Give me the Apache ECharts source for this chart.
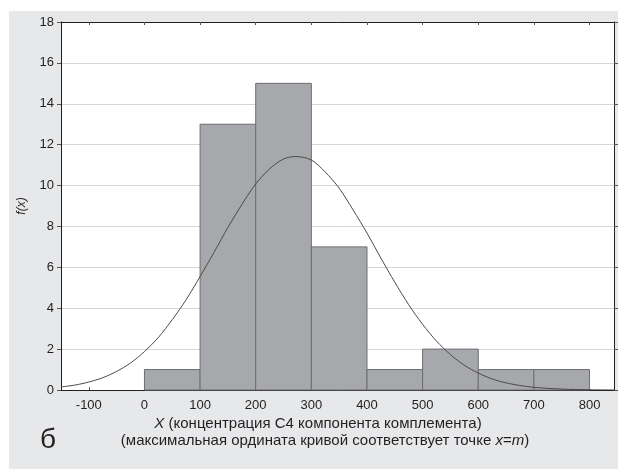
<!DOCTYPE html>
<html>
<head>
<meta charset="utf-8">
<script src="https://cdn.jsdelivr.net/npm/echarts@6/dist/echarts.min.js"></script>
<style>
html,body{margin:0;padding:0;background:#fff;}
#chart{width:618px;height:469px;}
</style>
</head>
<body>
<div id="chart"></div>
<script>
// Histogram bins: [from, to]
var binStarts = [0, 100, 200, 300, 400, 500, 600, 700];
var binEnds   = [100, 200, 300, 400, 500, 600, 700, 800];
var binCounts = [1, 13, 15, 7, 1, 2, 1, 1];

// Fitted curve
var curveX = [-150, -125, -100, -75, -50, -25, 0, 25, 50, 75, 100, 125, 150, 175, 200, 225, 250, 272, 300, 325, 350, 375, 400, 425, 450, 475, 500, 525, 550, 575, 600, 625, 650, 675, 700, 750, 800, 844];
var curveY = [0.15, 0.24, 0.39, 0.6, 0.91, 1.32, 1.88, 2.57, 3.44, 4.42, 5.55, 6.73, 7.95, 9.07, 10.08, 10.82, 11.3, 11.42, 11.25, 10.66, 9.87, 8.81, 7.68, 6.45, 5.27, 4.17, 3.21, 2.39, 1.73, 1.21, 0.83, 0.54, 0.35, 0.22, 0.13, 0.045, 0.013, 0.004];

// Tick labels
var xTicks = [-100, 0, 100, 200, 300, 400, 500, 600, 700, 800];
var yMin = 0, yMax = 18, yStep = 2;
var xMin = -150, xMax = 844;

var chart = echarts.init(document.getElementById('chart'), null, {renderer: 'canvas'});

var histData = binStarts.map(function (s, i) { return [s, binEnds[i], binCounts[i]]; });
var curveData = curveX.map(function (x, i) { return [x, curveY[i]]; });

var axisColor = '#231f20';
var font = "'Liberation Sans', Arial, sans-serif";

var option = {
  backgroundColor: '#ffffff',
  animation: false,
  graphic: [
    {type: 'rect', z: -10, silent: true, shape: {x: 9, y: 11, width: 609, height: 458}, style: {fill: '#e7e8e9'}},
    {type: 'text', left: 40, top: 426, z: 10, style: {text: 'б', font: '28px ' + font, fill: '#231f20'}},
    {type: 'text', x: 318, y: 424, z: 10, style: {
      text: '{i|X} (концентрация С4 компонента комплемента)',
      align: 'center', verticalAlign: 'middle', font: '15px ' + font, fill: '#231f20',
      rich: {i: {fontStyle: 'italic', fontSize: 15, fontFamily: font, fill: '#231f20'}}
    }},
    {type: 'text', x: 325, y: 441, z: 10, style: {
      text: '(максимальная ордината кривой соответствует точке {i|x}={i|m})',
      align: 'center', verticalAlign: 'middle', font: '15px ' + font, fill: '#231f20',
      rich: {i: {fontStyle: 'italic', fontSize: 15, fontFamily: font, fill: '#231f20'}}
    }}
  ],
  grid: {left: 61, top: 22, right: 4, bottom: 79, show: true, backgroundColor: '#ffffff', borderWidth: 0, containLabel: false},
  xAxis: [
    {
      type: 'value', min: xMin, max: xMax, position: 'bottom',
      axisLine: {show: true, onZero: false, lineStyle: {color: axisColor, width: 1}},
      axisTick: {show: true, inside: true, length: 3, customValues: xTicks, lineStyle: {color: '#555'}},
      axisLabel: {show: true, customValues: xTicks, margin: 9, color: axisColor, fontSize: 13, fontFamily: font},
      splitLine: {show: false}
    },
    {
      type: 'value', min: xMin, max: xMax, position: 'top',
      axisLine: {show: true, onZero: false, lineStyle: {color: axisColor, width: 1}},
      axisTick: {show: true, inside: true, length: 3, customValues: xTicks, lineStyle: {color: '#555'}},
      axisLabel: {show: false},
      splitLine: {show: false}
    }
  ],
  yAxis: [
    {
      type: 'value', min: yMin, max: yMax, interval: yStep, position: 'left',
      name: 'f(x)', nameLocation: 'middle', nameGap: 33, nameRotate: 90,
      nameTextStyle: {fontStyle: 'italic', fontSize: 12, color: axisColor, fontFamily: font},
      axisLine: {show: true, onZero: false, lineStyle: {color: axisColor, width: 1}},
      axisTick: {show: true, inside: false, length: 4, lineStyle: {color: '#555'}},
      axisLabel: {show: true, margin: 7, color: axisColor, fontSize: 13, fontFamily: font},
      splitLine: {show: true, lineStyle: {color: '#d6d6d6', width: 1}}
    },
    {
      type: 'value', min: yMin, max: yMax, interval: yStep, position: 'right',
      axisLine: {show: true, onZero: false, lineStyle: {color: axisColor, width: 1}},
      axisTick: {show: true, inside: false, length: 4, lineStyle: {color: '#555'}},
      axisLabel: {show: false},
      splitLine: {show: false}
    }
  ],
  series: [
    {
      type: 'custom',
      xAxisIndex: 0, yAxisIndex: 0,
      data: histData,
      encode: {x: [0, 1], y: 2},
      z: 2,
      renderItem: function (params, api) {
        var p0 = api.coord([api.value(0), api.value(2)]);
        var p1 = api.coord([api.value(1), 0]);
        return {
          type: 'rect',
          shape: {x: p0[0], y: p0[1], width: p1[0] - p0[0], height: p1[1] - p0[1]},
          style: {fill: '#a7a8ab', stroke: '#6d6e71', lineWidth: 1}
        };
      }
    },
    {
      type: 'line',
      xAxisIndex: 0, yAxisIndex: 0,
      data: curveData,
      smooth: 0.3,
      showSymbol: false,
      z: 5,
      lineStyle: {color: '#4a4a4a', width: 1},
      clip: true
    }
  ]
};
chart.setOption(option);
</script>
</body>
</html>
